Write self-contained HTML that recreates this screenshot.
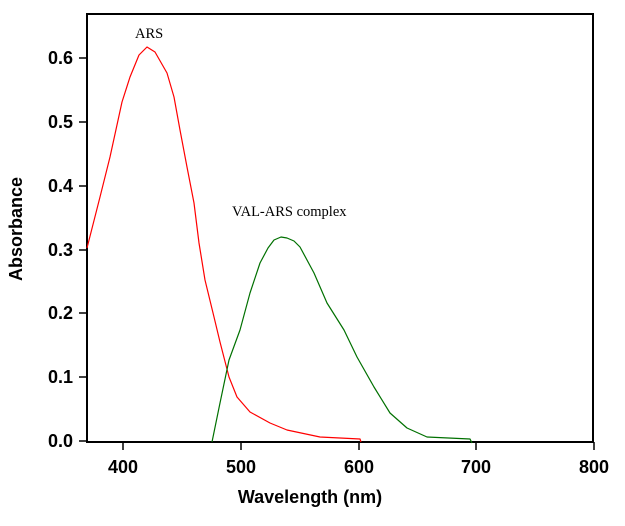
<!DOCTYPE html><html><head><style>body{margin:0;background:#fff}</style></head><body>
<svg width="625" height="521" xmlns="http://www.w3.org/2000/svg" font-family="Liberation Sans, Arial, sans-serif">
<rect width="625" height="521" fill="#fff"/>
<rect x="87" y="14" width="506" height="428" fill="none" stroke="#000" stroke-width="2"/>
<g stroke="#000" stroke-width="1.5">
<line x1="79" y1="441" x2="87" y2="441"/><line x1="79" y1="377" x2="87" y2="377"/><line x1="79" y1="313" x2="87" y2="313"/><line x1="79" y1="250" x2="87" y2="250"/><line x1="79" y1="186" x2="87" y2="186"/><line x1="79" y1="122" x2="87" y2="122"/><line x1="79" y1="58" x2="87" y2="58"/>
<line x1="123" y1="442" x2="123" y2="450"/><line x1="241" y1="442" x2="241" y2="450"/><line x1="359" y1="442" x2="359" y2="450"/><line x1="476" y1="442" x2="476" y2="450"/><line x1="594" y1="442" x2="594" y2="450"/>
</g>
<g font-size="18" font-weight="bold" text-anchor="end">
<text x="73" y="447">0.0</text><text x="73" y="383">0.1</text><text x="73" y="319">0.2</text><text x="73" y="256">0.3</text><text x="73" y="192">0.4</text><text x="73" y="128">0.5</text><text x="73" y="64">0.6</text>
</g>
<g font-size="18" font-weight="bold" text-anchor="middle">
<text x="123" y="473">400</text><text x="241" y="473">500</text><text x="359" y="473">600</text><text x="476" y="473">700</text><text x="594" y="473">800</text>
<text x="310" y="503">Wavelength (nm)</text>
<text transform="translate(22,229) rotate(-90)">Absorbance</text>
</g>
<g font-family="Liberation Serif, serif" font-size="14.5">
<text x="135" y="38">ARS</text>
<text x="232" y="216">VAL-ARS complex</text>
</g>
<polyline fill="none" stroke="#f00" stroke-width="1.2" stroke-linejoin="round" points="87,248 100,197 110,157 122,102 130,77 139,55 147,47 155,52 167,73 174,97 180,130 187,167 194,203 199,243 205,280 214,317 220,342 229,377 237,397 250,412 270,423 287,430 320,437 360,439 361,442"/>
<polyline fill="none" stroke="#007000" stroke-width="1.2" stroke-linejoin="round" points="212,442 220,403 229,360 240,330 250,293 260,263 268,248 274,240 281,237 287,238 294,241 300,247 314,273 327,303 344,330 357,357 374,387 390,413 407,428 427,437 470,439 472,443"/>
</svg>
</body></html>
